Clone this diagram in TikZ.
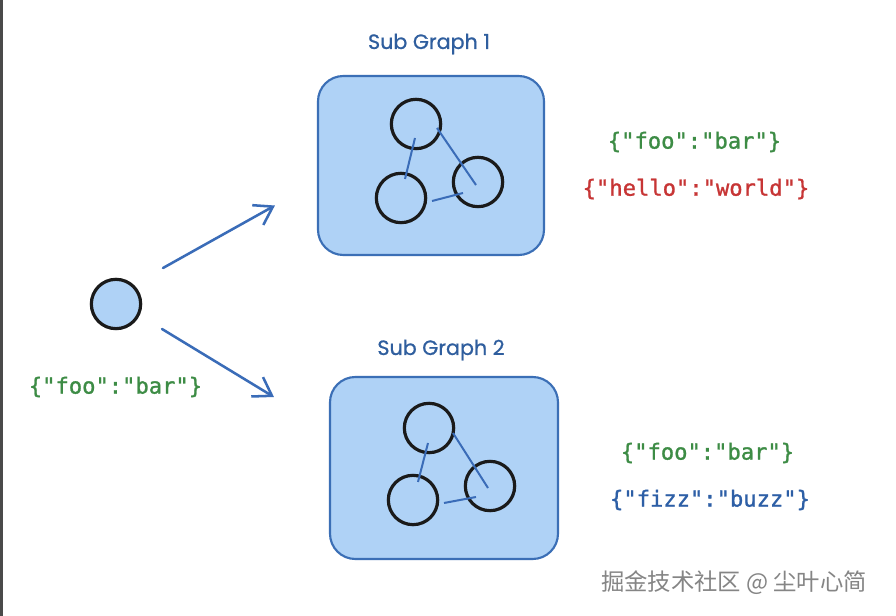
\documentclass[tikz,border=0pt]{standalone}
\usepackage{fontspec}
\usetikzlibrary{arrows.meta,calc}
\newfontfamily\monof[FakeBold=1.2]{DejaVu Sans Mono}
\newfontfamily\handf[FakeBold=0.8]{Poppins}
\newfontfamily\cjkf{Noto Sans CJK SC}
\definecolor{boxfill}{HTML}{AFD2F6}
\definecolor{boxline}{HTML}{3B6FB6}
\definecolor{edgeblue}{HTML}{3A6CB8}
\definecolor{titleblue}{HTML}{2F5E9E}
\definecolor{jgreen}{HTML}{3D8C45}
\definecolor{jred}{HTML}{C73535}
\definecolor{jblue}{HTML}{2D5FA6}
\definecolor{inkblack}{HTML}{1A1A1A}
\definecolor{barcol}{HTML}{4A4A4A}
\definecolor{wmark}{HTML}{858585}
\tikzset{
  groupbox/.style={draw=boxline, fill=boxfill, line width=1.6pt, rounded corners=19pt},
  gnode/.style={circle, draw=inkblack, line width=2.4pt, minimum size=37pt, inner sep=0pt},
  srcnode/.style={circle, draw=inkblack, fill=boxfill, line width=2.4pt, minimum size=37pt, inner sep=0pt},
  gedge/.style={draw=edgeblue, line width=1.5pt},
  flowarrow/.style={draw=edgeblue, line width=1.9pt, line cap=round, -{Straight Barb[length=13pt, width=17pt, line width=1.9pt]}},
  gtitle/.style={text=titleblue, font=\handf\fontsize{15.5}{18}\selectfont},
  jsontext/.style={font=\monof\fontsize{16.6}{20}\selectfont},
  wmtext/.style={text=wmark, font=\cjkf\fontsize{17.5}{21}\selectfont}
}
\begin{document}
\begin{tikzpicture}[x=0.75pt, y=-0.75pt]
\useasboundingbox (0,0) rectangle (896,616);
\fill[white] (0,0) rectangle (896,616);
\fill[barcol] (0,0) rectangle (3,616);

% source node
\node[srcnode] (src) at (116,304) {};
\node[jsontext, text=jgreen] (srcjson) at (115.5,387) {\{"foo":"bar"\}};

% group 1
\node[groupbox, minimum width=169.5pt, minimum height=134.25pt] (g1) at (431,165.5) {};
\node[gtitle] (t1) at (429,44) {Sub Graph 1};
\node[gnode] (a1) at (416,124) {};
\node[gnode] (b1) at (401,198) {};
\node[gnode] (c1) at (478,182) {};
\draw[gedge] ($(a1.center)+(-1,14)$) -- ($(b1.center)+(4,-19)$);
\draw[gedge] ($(a1.center)+(21,4)$) -- ($(c1.center)+(-2,3)$);
\draw[gedge] ($(b1.center)+(31,3)$) -- ($(c1.center)+(-15,11)$);
\node[jsontext, text=jgreen] (j1a) at (694.5,142) {\{"foo":"bar"\}};
\node[jsontext, text=jred] (j1b) at (696,189) {\{"hello":"world"\}};

% group 2
\node[groupbox, minimum width=171pt, minimum height=136.5pt] (g2) at (444,468) {};
\node[gtitle] (t2) at (441,350) {Sub Graph 2};
\node[gnode] (a2) at (429,428) {};
\node[gnode] (b2) at (413,500) {};
\node[gnode] (c2) at (490,486) {};
\draw[gedge] ($(a2.center)+(-1,15)$) -- ($(b2.center)+(5,-18)$);
\draw[gedge] ($(a2.center)+(24,5)$) -- ($(c2.center)+(-2,2)$);
\draw[gedge] ($(b2.center)+(31,3)$) -- ($(c2.center)+(-14,11)$);
\node[jsontext, text=jgreen] (j2a) at (707.5,453) {\{"foo":"bar"\}};
\node[jsontext, text=jblue] (j2b) at (710,500) {\{"fizz":"buzz"\}};

% arrows
\draw[flowarrow] ($(src.center)+(47,-36)$) -- ($(g1.west)+(-42,40)$);
\draw[flowarrow] ($(src.center)+(46,25)$) -- ($(g2.west)+(-55,-71)$);

% watermark
\node[wmtext] (wm) at (734,583) {掘金技术社区 @ 尘叶心简};
\end{tikzpicture}
\end{document}
